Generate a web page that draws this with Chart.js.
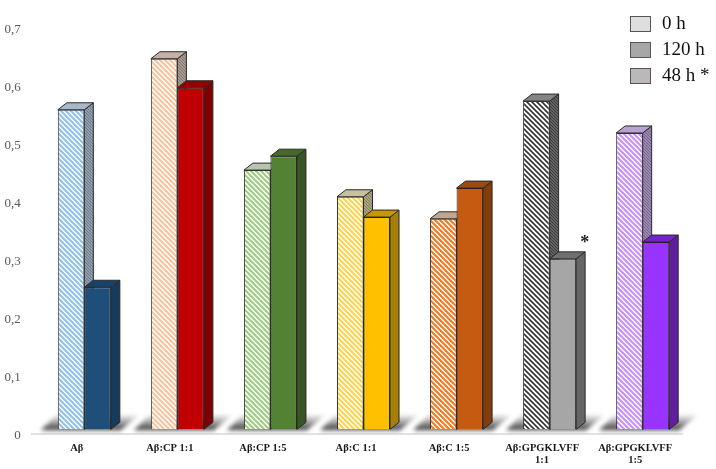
<!DOCTYPE html>
<html>
<head>
<meta charset="utf-8">
<script src="https://cdn.jsdelivr.net/npm/chart.js@4"></script>
<style>
    html, body { margin: 0; padding: 0; background: #fff; }
    #caixa { position: relative; width: 716px; height: 469px; }
    #legenda div { position: absolute; left: 630px; height: 26px; font: 19px "Liberation Serif", serif; color: #111; }
    #legenda i { position: absolute; left: 0; top: 5px; width: 19px; height: 14px; border: 1.5px solid #555; }
    #legenda span { position: absolute; left: 32px; top: 0; line-height: 24px; white-space: nowrap; }
</style>
</head>
<body>
<div id="caixa">
    <canvas id="grafico" width="716" height="469"></canvas>
    <div id="legenda"></div>
</div>
<script>
const categorias = [
    'Aβ', 'Aβ:CP 1:1', 'Aβ:CP 1:5', 'Aβ:C 1:1', 'Aβ:C 1:5',
    ['Aβ:GPGKLVFF', '1:1'], ['Aβ:GPGKLVFF', '1:5'],
];
const valores0h = [0.559, 0.647, 0.455, 0.409, 0.371, 0.574, 0.519];
const valores120h = [0.253, 0.597, 0.479, 0.374, 0.424, 0.302, 0.331];
const rotulosY = ['0', '0,1', '0,2', '0,3', '0,4', '0,5', '0,6', '0,7'];

const legendaTextos = ['0 h', '120 h', '48 h *'];
const legendaCores = ['#dedede', '#aaa6a6', '#bcb8b8'];
const legendaTopos = [11, 37, 63];

const coresListra = ['#8fc1ec', '#f8c4a0', '#9fcc82', '#ffd452', '#f47a22', '#333333', '#c78ffc'];
const coresTopoListra = ['#a8b8c8', '#c4b0a4', '#b8c4ae', '#c8c0a2', '#c4a68e', '#858585', '#b8a2d2'];
const coresLadoListra = ['#6f7c8a', '#857a70', '#74806a', '#857d5e', '#856c58', '#3c3c3c', '#75668c'];
const coresSolido = ['#1f4e79', '#c00000', '#548235', '#ffc000', '#c55a11', '#a6a6a6', '#9933ff'];
const coresTopoSolido = ['#1a4269', '#960000', '#44692a', '#c79600', '#9c4a10', '#6f6f6f', '#7322cc'];
const coresLadoSolido = ['#163a5a', '#7f0000', '#375623', '#a68000', '#843c0c', '#666666', '#5f1f9f'];

const BASE_BARRA = 0.008;
const FUNDO_X = 9;
const FUNDO_Y = 7;

function criarListra(cor, tamanho, espessura, fundo) {
    const c = document.createElement('canvas');
    c.width = tamanho;
    c.height = tamanho;
    const ctx = c.getContext('2d');
    ctx.fillStyle = fundo || '#fff';
    ctx.fillRect(0, 0, tamanho, tamanho);
    ctx.strokeStyle = cor;
    ctx.lineWidth = espessura;
    for (let d = -tamanho; d <= tamanho; d += tamanho) {
        ctx.beginPath();
        ctx.moveTo(d - 1, -1);
        ctx.lineTo(d + tamanho + 1, tamanho + 1);
        ctx.stroke();
    }
    return ctx.createPattern(c, 'repeat');
}

function poligono(ctx, pontos, preenchimento) {
    ctx.beginPath();
    pontos.forEach((p, i) => (i ? ctx.lineTo(p[0], p[1]) : ctx.moveTo(p[0], p[1])));
    ctx.closePath();
    ctx.fillStyle = preenchimento;
    ctx.fill();
    ctx.strokeStyle = '#2a2a2a';
    ctx.lineWidth = 1;
    ctx.stroke();
}

function desenharVolume(ctx, barra, corTopo, corLado) {
    const esq = barra.x - barra.width / 2;
    const dir = barra.x + barra.width / 2;
    poligono(ctx, [[dir, barra.y], [dir + FUNDO_X, barra.y - FUNDO_Y], [dir + FUNDO_X, barra.base - FUNDO_Y], [dir, barra.base]], corLado);
    poligono(ctx, [[esq, barra.y], [esq + FUNDO_X, barra.y - FUNDO_Y], [dir + FUNDO_X, barra.y - FUNDO_Y], [dir, barra.y]], corTopo);
}

const volume3d = {
    id: 'volume3d',
    beforeDatasetsDraw(chart) {
        const ctx = chart.ctx;
        const area = chart.chartArea;
        const barras0 = chart.getDatasetMeta(0).data;
        const barras1 = chart.getDatasetMeta(1).data;

        // linha do chao
        ctx.save();
        ctx.strokeStyle = '#d9d9d9';
        ctx.lineWidth = 1.5;
        ctx.beginPath();
        ctx.moveTo(area.left - 7, area.bottom);
        ctx.lineTo(area.right - 6, area.bottom);
        ctx.stroke();

        // sombra no chao
        barras0.forEach((b0, i) => {
            const b1 = barras1[i];
            const esq = b0.x - b0.width / 2;
            const dir = b1.x + b1.width / 2;
            const grad = ctx.createLinearGradient(0, b0.base - 14, 0, b0.base);
            grad.addColorStop(0, 'rgba(120,120,120,0.15)');
            grad.addColorStop(1, 'rgba(50,50,50,0.95)');
            ctx.save();
            ctx.filter = 'blur(2px)';
            ctx.beginPath();
            ctx.moveTo(esq - 17, b0.base + 1);
            ctx.lineTo(dir + 10, b0.base + 1);
            ctx.lineTo(dir + 28, b0.base - 14);
            ctx.lineTo(esq - 2, b0.base - 14);
            ctx.closePath();
            ctx.fillStyle = grad;
            ctx.fill();
            ctx.restore();
        });
        ctx.restore();

        ctx.save();
        barras0.forEach((b0, i) => {
            desenharVolume(ctx, b0, coresTopoListra[i], criarListra(coresLadoListra[i], 3, 1.3, coresTopoListra[i]));
            desenharVolume(ctx, barras1[i], coresTopoSolido[i], coresLadoSolido[i]);
        });
        ctx.restore();
    },
    afterDatasetsDraw(chart) {
        // asterisco sobre a barra de 120 h
        const b = chart.getDatasetMeta(1).data[5];
        const ctx = chart.ctx;
        ctx.save();
        ctx.fillStyle = '#222';
        ctx.font = 'bold 18px "Liberation Serif", serif';
        ctx.textAlign = 'center';
        ctx.textBaseline = 'middle';
        ctx.fillText('*', b.x + 22, b.y - 15);
        ctx.restore();
    },
};

new Chart(document.getElementById('grafico'), {
    type: 'bar',
    data: {
        labels: categorias,
        datasets: [
            {
                label: '0 h',
                data: valores0h,
                base: BASE_BARRA,
                backgroundColor: coresListra.map((cor, i) => criarListra(cor, 5, i === 5 ? 1.6 : 2.1)),
                borderColor: '#333',
                borderWidth: 1,
            },
            {
                label: '120 h',
                data: valores120h,
                base: BASE_BARRA,
                backgroundColor: coresSolido,
                borderColor: '#222',
                borderWidth: 1,
            },
        ],
    },
    options: {
        responsive: false,
        animation: false,
        categoryPercentage: 0.57,
        barPercentage: 1,
        layout: { padding: { top: 28, right: 26.8, left: 0, bottom: 0 } },
        plugins: {
            legend: { display: false },
            tooltip: { enabled: false },
        },
        scales: {
            x: {
                grid: { display: false, drawTicks: false },
                border: { display: false },
                afterFit(escala) { escala.height = 35; },
                ticks: {
                    autoSkip: false,
                    maxRotation: 0,
                    labelOffset: -7.5,
                    padding: 8,
                    color: '#1a1a1a',
                    font: { family: '"Liberation Serif", serif', size: 10.5, weight: 'bold', lineHeight: 1.15 },
                },
            },
            y: {
                min: 0,
                max: 0.7,
                grid: { display: false, drawTicks: false },
                border: { display: false },
                afterFit(escala) { escala.width = 37.8; },
                ticks: {
                    stepSize: 0.1,
                    padding: 17,
                    labelOffset: 1.5,
                    color: '#595959',
                    font: { family: '"Liberation Serif", serif', size: 13 },
                    callback: (valor) => rotulosY[Math.round(valor * 10)],
                },
            },
        },
    },
    plugins: [volume3d],
});

const legendaEl = document.getElementById('legenda');
legendaTextos.forEach((texto, i) => {
    const item = document.createElement('div');
    item.style.top = legendaTopos[i] + 'px';
    item.innerHTML = `<i style="background:${legendaCores[i]}"></i><span>${texto}</span>`;
    legendaEl.appendChild(item);
});
</script>
</body>
</html>
